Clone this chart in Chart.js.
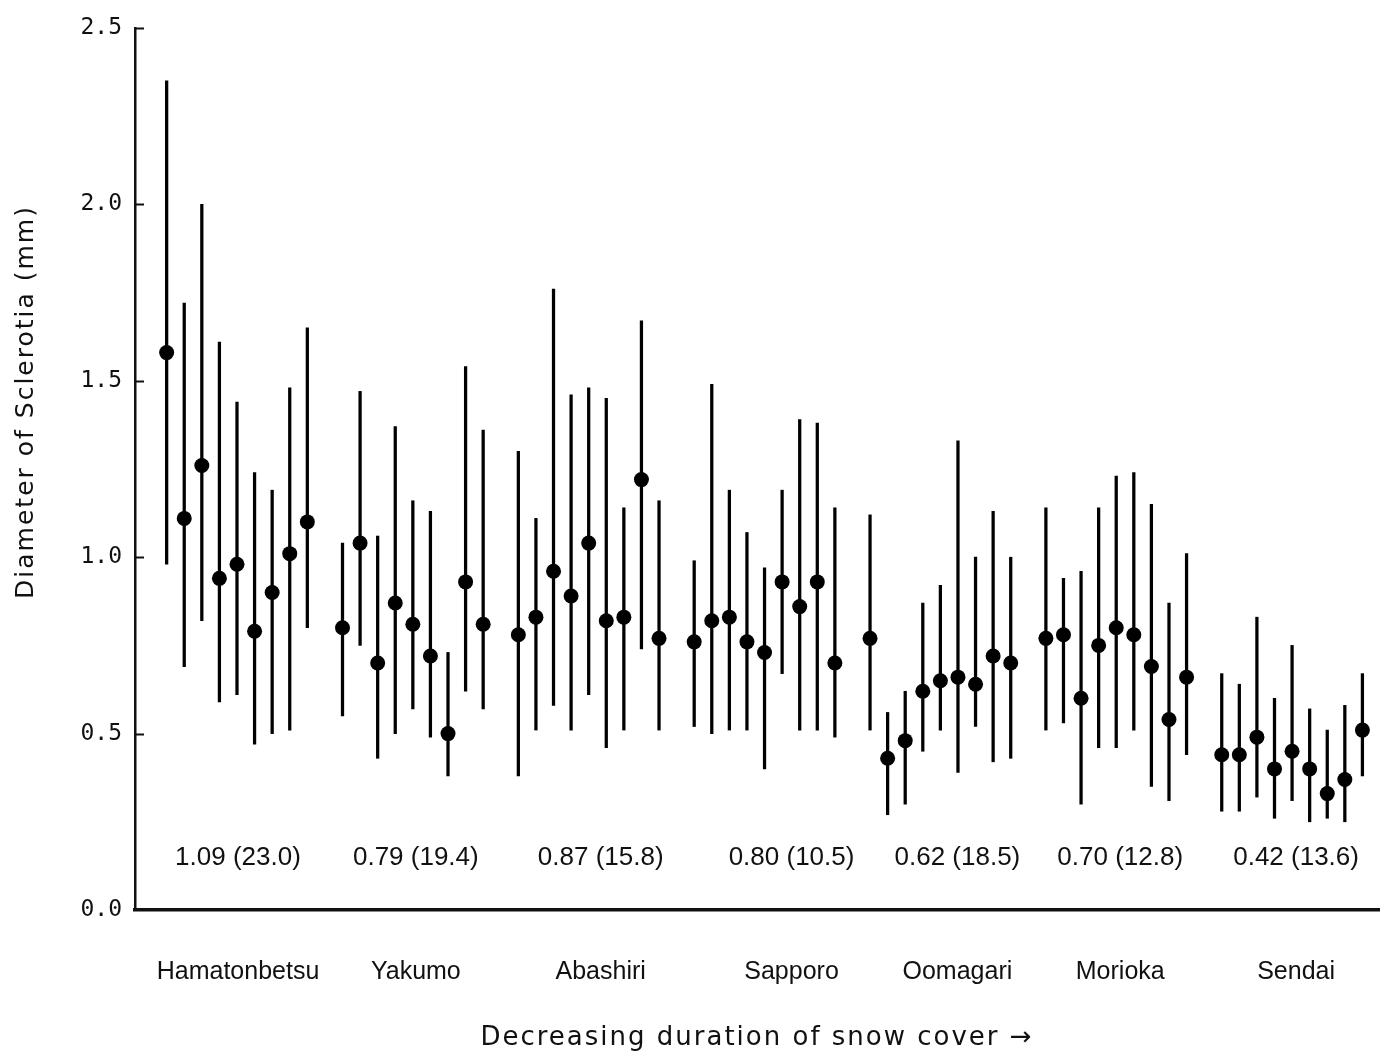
<!DOCTYPE html>
<html>
<head>
<meta charset="utf-8">
<title>Diameter of sclerotia by station</title>
<script src="https://cdn.jsdelivr.net/npm/chart.js@4.4.1/dist/chart.umd.min.js"></script>
<style>
  html, body { margin: 0; padding: 0; background: #fff; overflow: hidden; }
  #wrap { width: 1380px; height: 1056px; }
  canvas { display: block; }
</style>
</head>
<body>
<div id="wrap"><canvas id="sclerotiaChart" width="1380" height="1056"></canvas></div>
<script>
// stations, ordered by decreasing duration of snow cover
const stations = ["Hamatonbetsu", "Yakumo", "Abashiri", "Sapporo", "Oomagari", "Morioka", "Sendai"];
// station mean diameter and (value in brackets) printed under each group
const stationMeans = [1.09, 0.79, 0.87, 0.80, 0.62, 0.70, 0.42];
const stationBracket = [23.0, 19.4, 15.8, 10.5, 18.5, 12.8, 13.6];

// per-isolate mean diameter (mm), one row per station
const meanValues = [
  [1.58, 1.11, 1.26, 0.94, 0.98, 0.79, 0.90, 1.01, 1.10],
  [0.80, 1.04, 0.70, 0.87, 0.81, 0.72, 0.50, 0.93, 0.81],
  [0.78, 0.83, 0.96, 0.89, 1.04, 0.82, 0.83, 1.22, 0.77],
  [0.76, 0.82, 0.83, 0.76, 0.73, 0.93, 0.86, 0.93, 0.70],
  [0.77, 0.43, 0.48, 0.62, 0.65, 0.66, 0.64, 0.72, 0.70],
  [0.77, 0.78, 0.60, 0.75, 0.80, 0.78, 0.69, 0.54, 0.66],
  [0.44, 0.44, 0.49, 0.40, 0.45, 0.40, 0.33, 0.37, 0.51],
];
// upper end of the range bars
const upperValues = [
  [2.35, 1.72, 2.00, 1.61, 1.44, 1.24, 1.19, 1.48, 1.65],
  [1.04, 1.47, 1.06, 1.37, 1.16, 1.13, 0.73, 1.54, 1.36],
  [1.30, 1.11, 1.76, 1.46, 1.48, 1.45, 1.14, 1.67, 1.16],
  [0.99, 1.49, 1.19, 1.07, 0.97, 1.19, 1.39, 1.38, 1.14],
  [1.12, 0.56, 0.62, 0.87, 0.92, 1.33, 1.00, 1.13, 1.00],
  [1.14, 0.94, 0.96, 1.14, 1.23, 1.24, 1.15, 0.87, 1.01],
  [0.67, 0.64, 0.83, 0.60, 0.75, 0.57, 0.51, 0.58, 0.67],
];
// lower end of the range bars
const lowerValues = [
  [0.98, 0.69, 0.82, 0.59, 0.61, 0.47, 0.50, 0.51, 0.80],
  [0.55, 0.75, 0.43, 0.50, 0.57, 0.49, 0.38, 0.62, 0.57],
  [0.38, 0.51, 0.58, 0.51, 0.61, 0.46, 0.51, 0.74, 0.51],
  [0.52, 0.50, 0.51, 0.51, 0.40, 0.67, 0.51, 0.51, 0.49],
  [0.51, 0.27, 0.30, 0.45, 0.51, 0.39, 0.52, 0.42, 0.43],
  [0.51, 0.53, 0.30, 0.46, 0.46, 0.51, 0.35, 0.31, 0.44],
  [0.28, 0.28, 0.32, 0.26, 0.31, 0.25, 0.26, 0.25, 0.38],
];
const yTicks = [0, 0.5, 1.0, 1.5, 2.0, 2.5];

// each station takes 9 slots plus one empty slot as a gap
const GROUP_STEP = 10;
const xOf = (g, i) => g * GROUP_STEP + i;
const groupCenter = (g) => xOf(g, (meanValues[g].length - 1) / 2);
// the printed station texts sit a little right of some group centres (px)
const textNudge = [1, 3, 12, 27, 17, 4, 4];

const meanPoints = [];
const rangeBars = [];
meanValues.forEach((row, g) => {
  row.forEach((m, i) => {
    meanPoints.push({ x: xOf(g, i), y: m });
    rangeBars.push({ x: xOf(g, i), y: [lowerValues[g][i], upperValues[g][i]] });
  });
});

const ink = "#111";

// inward tick marks, station texts and both axis titles
const extras = {
  id: "extras",
  afterDraw(chart) {
    const { ctx, scales: { x, y } } = chart;
    ctx.save();
    ctx.strokeStyle = ink;
    ctx.lineWidth = 2;
    y.ticks.forEach((t) => {
      if (t.value === 0) return;
      const py = Math.round(y.getPixelForValue(t.value)) + 0.5;
      ctx.beginPath();
      ctx.moveTo(x.left, py);
      ctx.lineTo(x.left + 9, py);
      ctx.stroke();
    });

    ctx.fillStyle = ink;
    ctx.textAlign = "center";
    ctx.textBaseline = "middle";
    stations.forEach((s, g) => {
      const px = x.getPixelForValue(groupCenter(g)) + textNudge[g];
      ctx.font = '26px "Liberation Sans", Arial, sans-serif';
      const txt = stationMeans[g].toFixed(2) + " (" + stationBracket[g].toFixed(1) + ")";
      ctx.fillText(txt, px, y.getPixelForValue(0.148));
      ctx.font = '25px "Liberation Sans", Arial, sans-serif';
      ctx.fillText(s, px, 972);
    });

    // x title
    ctx.font = '26px "DejaVu Sans", sans-serif';
    ctx.letterSpacing = "2px";
    ctx.fillText("Decreasing duration of snow cover \u2192", 757, 1038);

    // y title
    ctx.font = '25px "DejaVu Sans", sans-serif';
    ctx.translate(26, y.getPixelForValue(1.44));
    ctx.rotate(-Math.PI / 2);
    ctx.fillText("Diameter of Sclerotia (mm)", 0, 0);
    ctx.restore();
  },
};

new Chart(document.getElementById("sclerotiaChart"), {
  type: "bar",
  data: {
    datasets: [
      {
        type: "scatter",
        label: "Mean",
        data: meanPoints,
        backgroundColor: "#000",
        borderWidth: 0,
        pointRadius: 7.5,
        order: 0,
      },
      {
        type: "bar",
        label: "Range",
        data: rangeBars,
        backgroundColor: "#000",
        barThickness: 2.6,
        borderWidth: 0,
        order: 1,
      },
    ],
  },
  options: {
    responsive: false,
    devicePixelRatio: 1,
    animation: false,
    layout: { autoPadding: false, padding: { top: 28, right: 0, left: 0, bottom: 0 } },
    plugins: {
      legend: { display: false },
      tooltip: { enabled: false },
    },
    scales: {
      x: {
        type: "linear",
        offset: false,
        min: -1.8,
        max: 69,
        grid: { drawOnChartArea: false, drawTicks: false, offset: false },
        border: { display: true, color: ink, width: 3.5 },
        ticks: { display: false },
        afterFit: (scale) => {
          scale.height = 146;
        },
      },
      y: {
        min: 0,
        max: 2.5,
        grid: { drawOnChartArea: false, drawTicks: false },
        border: { display: true, color: ink, width: 2.5 },
        afterBuildTicks: (scale) => {
          scale.ticks = yTicks.map((v) => ({ value: v }));
        },
        ticks: {
          padding: 13,
          color: ink,
          font: { family: '"DejaVu Sans Mono", monospace', size: 23 },
          callback: (value) => Number(value).toFixed(1),
        },
        afterFit: (scale) => {
          scale.width = 135;
        },
      },
    },
  },
  plugins: [extras],
});
</script>
</body>
</html>
